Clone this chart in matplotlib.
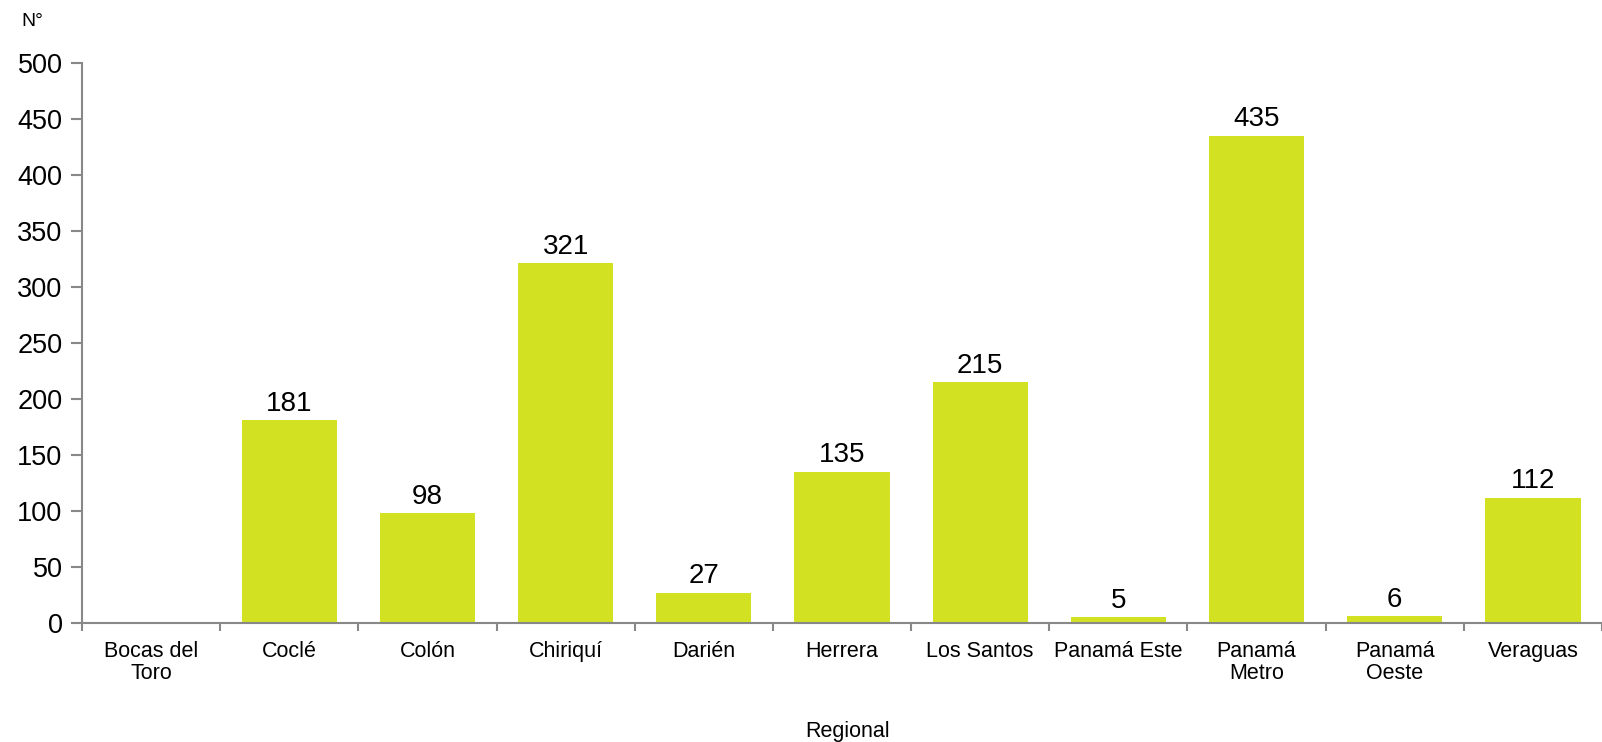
import matplotlib.pyplot as plt
import numpy as np

plt.rcParams['font.family'] = ['Liberation Sans', 'DejaVu Sans']

# ── Data ────────────────────────────────────────────────────────────────
regions = ['Bocas del\nToro', 'Coclé', 'Colón', 'Chiriquí', 'Darién', 'Herrera',
           'Los Santos', 'Panamá Este', 'Panamá\nMetro', 'Panamá\nOeste', 'Veraguas']
values = [0, 181, 98, 321, 27, 135, 215, 5, 435, 6, 112]
labels = ['', '181', '98', '321', '27', '135', '215', '5', '435', '6', '112']

BAR = '#D2E121'
AX = '#888888'

fig = plt.figure(figsize=(16.02, 7.42), dpi=100)
ax = fig.add_axes([82 / 1602, 1 - 623 / 742, (1602 - 82) / 1602, 560 / 742])

x = np.arange(len(regions))
bars = ax.bar(x, values, width=0.69, color=BAR)
for b, lab in zip(bars, labels):
    if lab:
        ax.text(b.get_x() + b.get_width() / 2, b.get_height() + 3, lab,
                ha='center', va='bottom', fontsize=20)

ax.set_xlim(-0.5, 10.5)
ax.set_ylim(0, 500)
ax.set_yticks(range(0, 501, 50))
ax.tick_params(axis='y', labelsize=19.5, length=8, color=AX, width=1.5, pad=6)

ax.set_xticks(x)
ax.set_xticklabels(regions, fontsize=15.5, linespacing=1.05)
ax.tick_params(axis='x', which='major', length=0, pad=13)
ax.set_xticks(np.arange(-0.5, 11, 1), minor=True)
ax.tick_params(axis='x', which='minor', length=6, color=AX, width=1.5)

for s in ['top', 'right']:
    ax.spines[s].set_visible(False)
for s in ['left', 'bottom']:
    ax.spines[s].set_color(AX)
    ax.spines[s].set_linewidth(1.5)

fig.text(21 / 1602, 1 - 22 / 742, 'N°', fontsize=14, va='center')
fig.text(848 / 1602, 1 - 737 / 742, 'Regional', fontsize=15.5, ha='center', va='baseline')

plt.savefig('out.png', dpi=100)
